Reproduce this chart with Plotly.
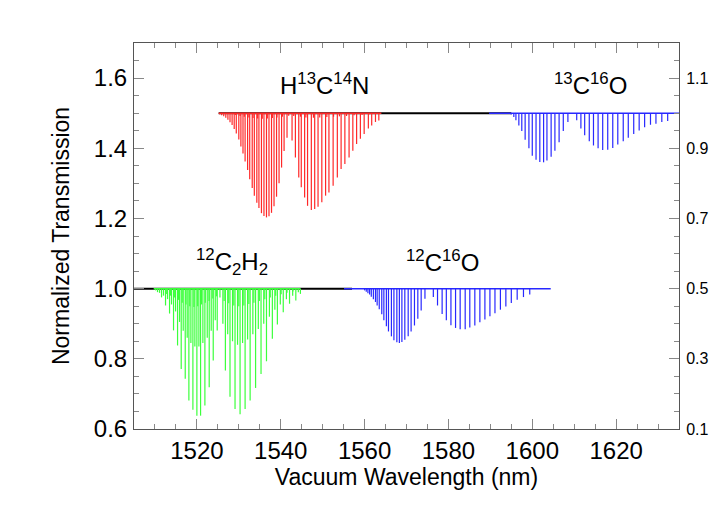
import plotly.graph_objects as go

# ---- H13C14N (upper panel, baseline 1.5) ----
hcn_wl = [1525.4, 1525.9, 1526.4, 1526.9, 1527.4, 1527.9, 1528.4, 1528.9, 1529.4, 1530.0,
          1530.5, 1531.0, 1531.5, 1532.1, 1532.6, 1533.2, 1533.7, 1534.3, 1534.8, 1535.4,
          1536.0, 1536.6, 1537.2, 1537.8, 1538.4, 1539.0, 1539.6, 1540.2, 1540.8, 1541.5,
          1542.7, 1543.5, 1544.3, 1544.9, 1545.7, 1546.4, 1547.3, 1548.1, 1548.9, 1549.8,
          1550.7, 1551.5, 1552.5, 1553.5, 1554.4, 1555.3, 1556.3, 1557.2, 1558.1, 1559.0,
          1559.9, 1560.9, 1561.7, 1562.6, 1563.4]
hcn_tr = [1.497, 1.494, 1.491, 1.487, 1.481, 1.474, 1.466, 1.455, 1.442, 1.425,
          1.405, 1.385, 1.362, 1.338, 1.312, 1.287, 1.265, 1.245, 1.230, 1.215,
          1.207, 1.203, 1.206, 1.216, 1.235, 1.262, 1.300, 1.345, 1.392, 1.430,
          1.422, 1.374, 1.317, 1.289, 1.260, 1.236, 1.224, 1.227, 1.233, 1.246,
          1.265, 1.274, 1.293, 1.317, 1.341, 1.355, 1.374, 1.393, 1.412, 1.427,
          1.441, 1.456, 1.465, 1.475, 1.479]
hcn_hot_wl = [1529.2, 1530.3, 1531.3, 1532.4, 1533.4, 1534.5, 1535.6, 1536.8, 1538.0, 1539.1,
              1540.4, 1541.9, 1543.1, 1544.7, 1546.0, 1547.8, 1549.3, 1551.0, 1552.6, 1554.0,
              1555.7, 1557.5, 1559.4, 1561.2]
hcn_hot_tr = [1.495, 1.492, 1.490, 1.488, 1.486, 1.485, 1.484, 1.485, 1.486, 1.488,
              1.490, 1.493, 1.492, 1.490, 1.488, 1.487, 1.488, 1.489, 1.490, 1.491,
              1.492, 1.494, 1.495, 1.497]

# ---- 13C16O (upper panel, baseline 1.5) ----
co13_wl = [1595.0, 1595.6, 1596.1, 1596.8, 1597.5, 1598.3, 1599.2, 1600.0, 1600.9, 1601.8,
           1602.7, 1603.5, 1604.5, 1605.4, 1606.4, 1607.4, 1608.5,
           1610.6, 1611.6, 1612.5, 1613.6, 1614.6, 1615.7, 1616.8, 1618.0, 1619.2, 1620.4,
           1621.7, 1622.9, 1624.2, 1625.5, 1626.8, 1628.2, 1629.5, 1630.9, 1632.3]
co13_tr = [1.496, 1.489, 1.480, 1.465, 1.449, 1.424, 1.400, 1.379, 1.367, 1.361,
           1.360, 1.365, 1.376, 1.393, 1.417, 1.449, 1.475,
           1.480, 1.456, 1.437, 1.420, 1.408, 1.400, 1.395, 1.396, 1.401, 1.411,
           1.420, 1.430, 1.441, 1.451, 1.460, 1.467, 1.470, 1.475, 1.478]

# ---- 12C2H2 (lower panel, baseline 1.0) ----
c2h2_wl = [1510.14, 1510.61, 1511.09, 1511.57, 1512.04, 1512.52, 1513.00, 1513.48, 1513.95, 1514.43,
           1514.91, 1515.39, 1515.86, 1516.26, 1516.74, 1517.22, 1517.69, 1518.09, 1518.57, 1519.05,
           1519.52, 1520.00, 1520.48, 1520.88, 1521.43, 1521.91, 1522.47, 1522.94, 1523.42, 1523.90,
           1524.38, 1524.85,
           1526.2, 1526.8, 1527.35, 1527.9, 1528.5, 1529.1, 1529.7, 1530.3, 1530.9, 1531.5,
           1532.1, 1532.7, 1533.35, 1534.0, 1534.65, 1535.3, 1535.95, 1536.6, 1537.3, 1538.0,
           1538.6, 1539.2, 1539.9, 1540.6, 1541.35, 1542.1, 1542.85, 1543.6, 1544.2, 1544.7]
c2h2_tr = [0.995, 0.990, 0.988, 0.975, 0.980, 0.952, 0.970, 0.929, 0.955, 0.881,
           0.935, 0.838, 0.905, 0.771, 0.880, 0.743, 0.860, 0.681, 0.845, 0.655,
           0.835, 0.638, 0.835, 0.638, 0.845, 0.667, 0.860, 0.719, 0.880, 0.795,
           0.910, 0.881,
           0.900, 0.767, 0.870, 0.692, 0.850, 0.657, 0.840, 0.642, 0.845, 0.657,
           0.855, 0.681, 0.870, 0.717, 0.885, 0.757, 0.900, 0.793, 0.920, 0.857,
           0.940, 0.898, 0.955, 0.933, 0.970, 0.957, 0.980, 0.966, 0.990, 0.985]
c2h2_hot_wl = [1512.8, 1513.7, 1514.7, 1515.6, 1516.5, 1517.4, 1518.3, 1519.3, 1520.2, 1521.1,
               1522.0, 1522.9, 1523.8, 1524.7, 1525.5, 1526.5, 1527.6, 1528.8, 1530.0, 1531.2,
               1532.4, 1533.6, 1534.9, 1536.2, 1537.5, 1538.8, 1540.1, 1541.5, 1542.9]
c2h2_hot_tr = [0.985, 0.980, 0.975, 0.968, 0.960, 0.955, 0.950, 0.948, 0.950, 0.955,
               0.960, 0.965, 0.972, 0.978, 0.975, 0.965, 0.958, 0.952, 0.950, 0.952,
               0.956, 0.960, 0.965, 0.970, 0.975, 0.980, 0.984, 0.988, 0.992]

# ---- 12C16O (lower panel, baseline 1.0) ----
co12_wl = [1560.0, 1560.4, 1560.8, 1561.2, 1561.6, 1562.1, 1562.6, 1563.0, 1563.5, 1564.1,
           1564.6, 1565.2, 1565.7, 1566.4, 1567.0, 1567.7, 1568.3, 1568.9, 1569.6, 1570.4,
           1571.1, 1571.9, 1572.7, 1573.5, 1574.4,
           1576.4, 1577.4, 1578.5, 1579.5, 1580.6, 1581.7, 1582.8, 1584.0, 1585.1, 1586.3,
           1587.5, 1588.7, 1589.9, 1591.1, 1592.4, 1593.7, 1595.0, 1596.4, 1597.9, 1599.4]
co12_tr = [0.995, 0.991, 0.987, 0.983, 0.977, 0.970, 0.962, 0.952, 0.941, 0.927,
           0.910, 0.893, 0.878, 0.864, 0.853, 0.847, 0.845, 0.848, 0.854, 0.864,
           0.878, 0.895, 0.914, 0.938, 0.971,
           0.976, 0.952, 0.928, 0.910, 0.896, 0.888, 0.884, 0.884, 0.889, 0.895,
           0.904, 0.912, 0.921, 0.930, 0.940, 0.949, 0.959, 0.968, 0.976, 0.983]

# extent of each drawn spectrum (nm)
hcn_span = [1525.2, 1564.0]
co13_span = [1589.7, 1635.0]
c2h2_span = [1509.7, 1544.7]
co12_span = [1555.1, 1604.4]
upper_black = [1525.2, 1595.0]
lower_black = [1505.0, 1557.0]


def sticks(wl, tr, base):
    xs, ys = [], []
    for w, t in zip(wl, tr):
        xs += [w, w, None]
        ys += [base, t, None]
    return xs, ys


fig = go.Figure()

# black reference baselines
for span, base in [(upper_black, 1.5), (lower_black, 1.0)]:
    fig.add_trace(go.Scatter(x=span, y=[base, base], mode="lines",
                             line=dict(color="black", width=2), hoverinfo="skip"))

spectra = [
    (hcn_wl, hcn_tr, hcn_hot_wl, hcn_hot_tr, hcn_span, 1.5, "rgb(255,40,40)"),
    (co13_wl, co13_tr, [], [], co13_span, 1.5, "rgb(40,40,255)"),
    (c2h2_wl, c2h2_tr, c2h2_hot_wl, c2h2_hot_tr, c2h2_span, 1.0, "rgb(60,255,60)"),
    (co12_wl, co12_tr, [], [], co12_span, 1.0, "rgb(40,40,255)"),
]
for wl, tr, hwl, htr, span, base, col in spectra:
    fig.add_trace(go.Scatter(x=span, y=[base, base], mode="lines",
                             line=dict(color=col, width=1.5), hoverinfo="skip"))
    xs, ys = sticks(wl + hwl, tr + htr, base)
    fig.add_trace(go.Scatter(x=xs, y=ys, mode="lines",
                             line=dict(color=col, width=1.2), hoverinfo="skip"))

# right-hand axis (offset by -0.5)
fig.add_trace(go.Scatter(x=[1505], y=[0.1], yaxis="y2", mode="markers",
                         marker=dict(opacity=0), hoverinfo="skip"))

labels = [
    (1550.5, 1.583, "H<sup>13</sup>C<sup>14</sup>N"),
    (1613.9, 1.583, "<sup>13</sup>C<sup>16</sup>O"),
    (1528.4, 1.075, "<sup>12</sup>C<sub>2</sub>H<sub>2</sub>"),
    (1578.7, 1.079, "<sup>12</sup>C<sup>16</sup>O"),
]
for x, y, t in labels:
    fig.add_annotation(x=x, y=y, text=t, showarrow=False,
                       font=dict(size=24, color="black"))

axis_common = dict(ticks="inside", tickcolor="#888", linecolor="#555", linewidth=1,
                   showline=True, showgrid=False, zeroline=False, automargin=False,
                   tickfont=dict(size=24, color="black"))

fig.update_layout(
    width=720, height=484,
    margin=dict(l=126, r=49, t=35, b=63),
    paper_bgcolor="white", plot_bgcolor="white",
    font=dict(family="Liberation Sans, Arial, sans-serif", color="black"),
    showlegend=False,
    xaxis=dict(range=[1505, 1635], tick0=1520, dtick=20, ticklen=10,
               mirror="ticks", ticklabelstandoff=0,
               minor=dict(dtick=5, ticks="inside", ticklen=5, tickcolor="#888"),
               title=dict(text="Vacuum Wavelength (nm)", font=dict(size=23), standoff=0),
               **axis_common),
    yaxis=dict(range=[0.6, 1.7], tick0=0.6, dtick=0.2, ticklen=10, tickformat=".1f",
               ticklabelstandoff=1,
               minor=dict(dtick=0.05, ticks="inside", ticklen=5, tickcolor="#888"),
               title=dict(text="Normalized Transmission", font=dict(size=23), standoff=17),
               **axis_common),
    yaxis2=dict(range=[0.1, 1.2], tick0=0.1, dtick=0.2, ticklen=10, tickformat=".1f",
                overlaying="y", side="right", ticklabelstandoff=3,
                minor=dict(dtick=0.05, ticks="inside", ticklen=5, tickcolor="#888"),
                **{**axis_common, "tickfont": dict(size=16, color="black")}),
)

fig.write_html("out.html")
